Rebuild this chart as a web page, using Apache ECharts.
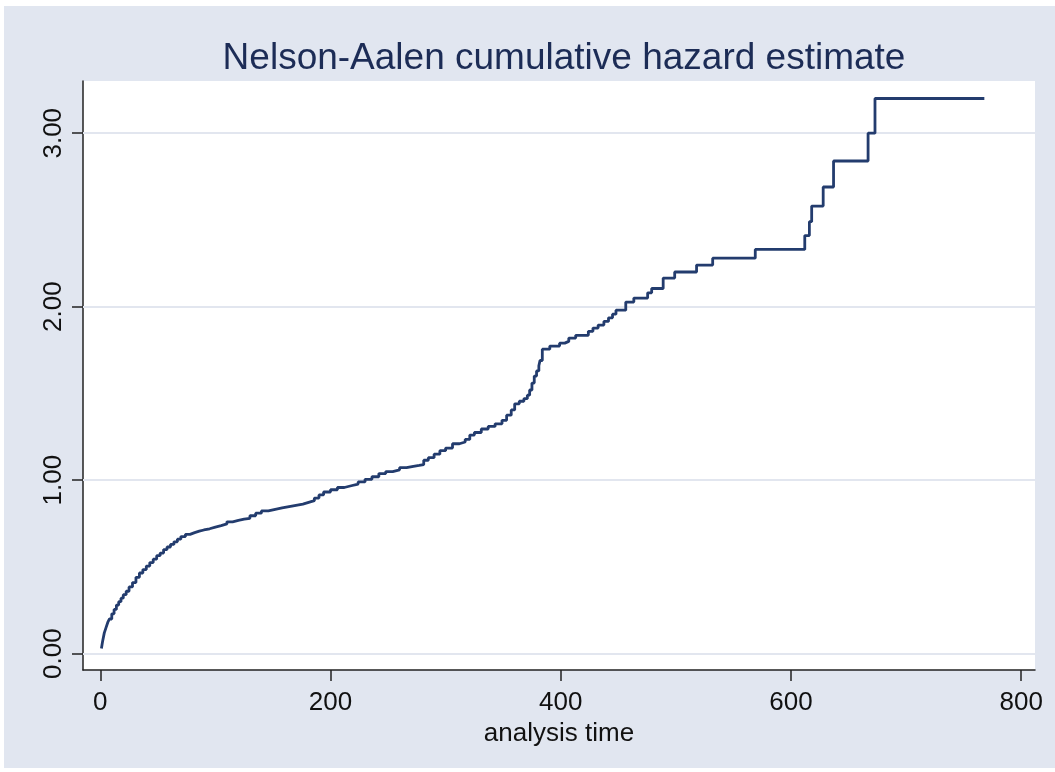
<!DOCTYPE html>
<html>
<head>
<meta charset="utf-8">
<script src="https://cdn.jsdelivr.net/npm/echarts@6/dist/echarts.min.js"></script>
<style>
  html, body { margin: 0; padding: 0; background: #fff; }
  #chart { width: 1055px; height: 772px; }
</style>
</head>
<body>
<div id="chart"></div>
<script>
// analysis time at each jump of the estimate, and the cumulative hazard after it
const times = [
  1, 2, 3.5, 5, 6.5, 8, 10, 12, 14, 16,
  18, 20, 22.5, 25, 28, 31, 34, 37, 40, 43,
  46, 49, 52, 55, 58, 61, 64, 67, 70, 74,
  78, 82, 86, 90, 95, 100, 105, 110, 115, 120,
  125, 130, 135, 140, 146, 152, 158, 164, 170, 176,
  181, 186, 190, 194, 200, 206, 212, 218, 224, 230,
  236, 242, 248, 254, 260, 266, 272, 277, 281, 285,
  290, 295, 300, 306, 312, 317, 321, 325, 331, 337,
  343, 349, 353, 357, 360, 364, 368, 371, 373, 375,
  377, 379, 381, 382, 384, 390.5, 399, 403.5, 407, 413,
  424, 428, 432.5, 437.5, 441.5, 445, 448, 456.5, 463.5, 475.5,
  479, 489, 499, 518, 532, 569, 612, 616, 618, 628,
  637, 667, 673, 768
];
const hazard = [
  0.03, 0.07, 0.12, 0.15, 0.18, 0.20, 0.23, 0.255, 0.28, 0.30,
  0.32, 0.34, 0.36, 0.385, 0.41, 0.44, 0.465, 0.485, 0.505, 0.525,
  0.545, 0.565, 0.58, 0.60, 0.615, 0.63, 0.645, 0.66, 0.675, 0.688,
  0.698, 0.706, 0.713, 0.72, 0.73, 0.738, 0.748, 0.76, 0.768, 0.775,
  0.78, 0.795, 0.81, 0.823, 0.832, 0.84, 0.848, 0.855, 0.862, 0.872,
  0.882, 0.897, 0.915, 0.932, 0.945, 0.958, 0.968, 0.978, 0.99, 1.005,
  1.02, 1.038, 1.05, 1.06, 1.072, 1.08, 1.085, 1.09, 1.115, 1.13,
  1.15, 1.17, 1.185, 1.21, 1.22, 1.235, 1.26, 1.275, 1.295, 1.31,
  1.325, 1.345, 1.375, 1.405, 1.44, 1.455, 1.47, 1.49, 1.52, 1.56,
  1.60, 1.63, 1.66, 1.69, 1.755, 1.773, 1.79, 1.80, 1.819, 1.835,
  1.858, 1.877, 1.894, 1.915, 1.936, 1.957, 1.98, 2.027, 2.05, 2.08,
  2.105, 2.165, 2.20, 2.24, 2.28, 2.33, 2.41, 2.49, 2.58, 2.69,
  2.84, 3.00, 3.20, 3.20
];
const xTicks = [0, 200, 400, 600, 800];
const yTicks = [0, 1, 2, 3];

const font = "'Liberation Sans', Arial, sans-serif";
const chart = echarts.init(document.getElementById("chart"));

const points = times.map((t, i) => [t, hazard[i]]);

const option = {
  backgroundColor: "#fff",
  animation: false,
  graphic: [
    {
      type: "rect",
      z: -100,
      silent: true,
      shape: { x: 4, y: 6, width: 1051, height: 762 },
      style: { fill: "#e1e6f0" },
    },
  ],
  title: {
    text: "Nelson-Aalen cumulative hazard estimate",
    left: 559,
    textAlign: "center",
    top: 35,
    textStyle: {
      fontFamily: font,
      fontSize: 37,
      fontWeight: "normal",
      color: "#1c2c56",
    },
  },
  grid: {
    left: 83,
    top: 81,
    right: 20,
    bottom: 102,
    show: true,
    backgroundColor: "#fff",
    borderWidth: 0,
  },
  xAxis: {
    type: "value",
    min: -15,
    max: 812,
    name: "analysis time",
    nameLocation: "middle",
    nameGap: 44,
    nameTextStyle: { fontFamily: font, fontSize: 26, color: "#111" },
    axisLine: { show: true, onZero: false, lineStyle: { color: "#222", width: 1.5 } },
    axisTick: {
      show: true,
      length: 11,
      customValues: xTicks,
      lineStyle: { color: "#222", width: 1.5 },
    },
    axisLabel: {
      customValues: xTicks,
      margin: 20,
      fontFamily: font,
      fontSize: 26,
      color: "#111",
    },
    splitLine: { show: false },
  },
  yAxis: {
    type: "value",
    min: -0.094,
    max: 3.301,
    axisLine: { show: true, onZero: false, lineStyle: { color: "#222", width: 1.5 } },
    axisTick: {
      show: true,
      length: 11,
      customValues: yTicks,
      lineStyle: { color: "#222", width: 1.5 },
    },
    axisLabel: {
      customValues: yTicks,
      rotate: 90,
      margin: 16,
      fontFamily: font,
      fontSize: 26,
      color: "#111",
      formatter: (v) => v.toFixed(2),
    },
    splitLine: { show: false },
  },
  series: [
    {
      // gridlines
      type: "line",
      data: [],
      z: 1,
      silent: true,
      markLine: {
        z: 1,
        silent: true,
        symbol: ["none", "none"],
        label: { show: false },
        lineStyle: { color: "#e2e6ef", width: 2, type: "solid" },
        data: yTicks.map((v) => ({ yAxis: v })),
      },
    },
    {
      type: "line",
      step: "end",
      z: 10,
      showSymbol: false,
      data: points,
      lineStyle: { color: "#233c6e", width: 2.8 },
    },
  ],
};

chart.setOption(option);
</script>
</body>
</html>
